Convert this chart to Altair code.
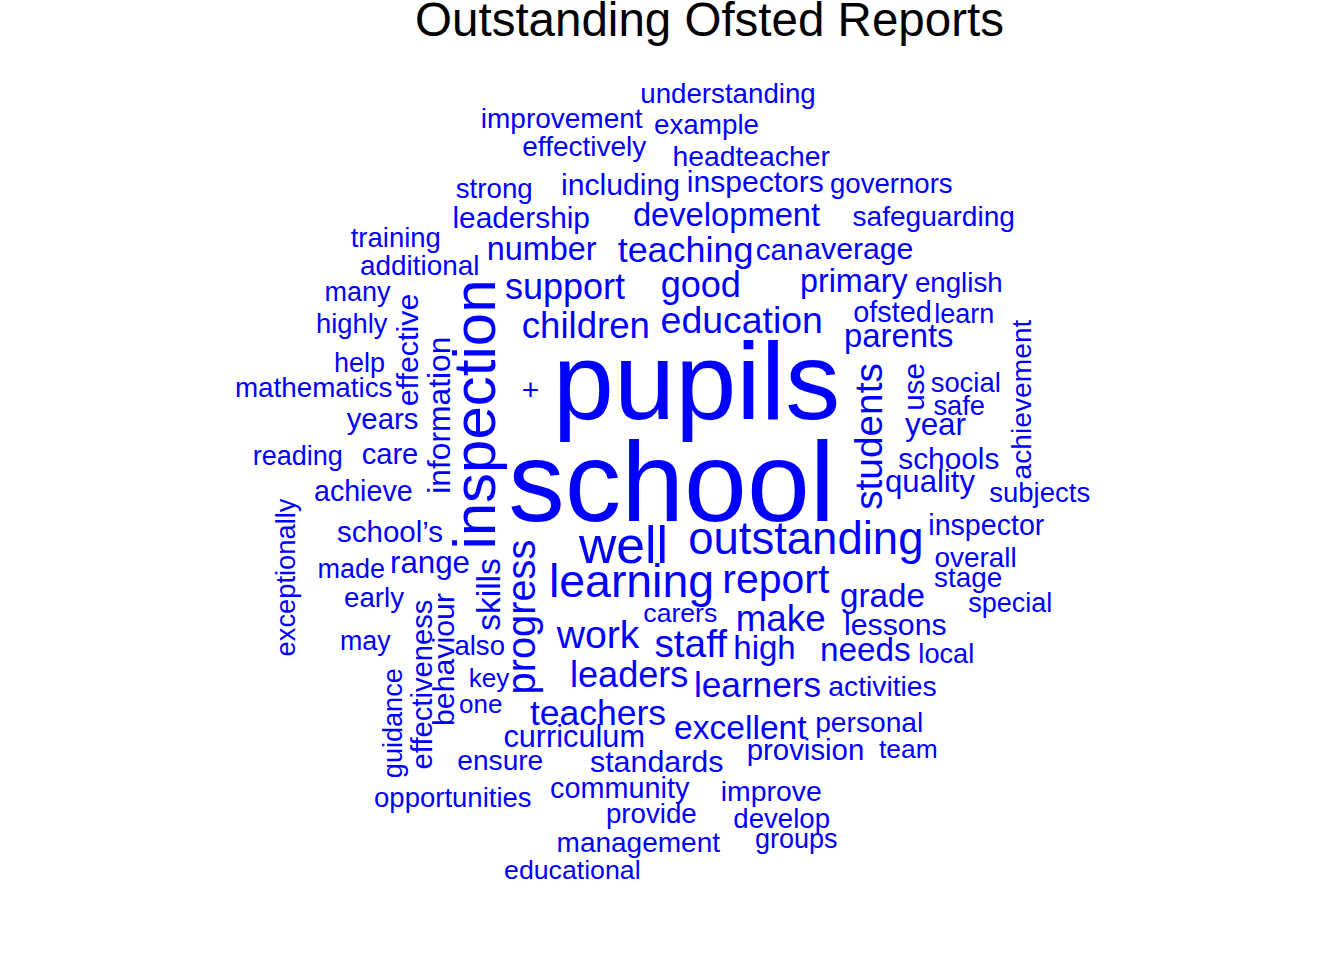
import altair as alt
import pandas as pd

TITLE = "Outstanding Ofsted Reports"

# Horizontal words: word, centre x, baseline y (pixel space of the picture), weight (font size)
h_words = ["understanding", "improvement", "example", "effectively", "headteacher", "strong",
           "including", "inspectors", "governors", "leadership", "development", "safeguarding",
           "training", "number", "teaching", "can", "average", "additional", "many", "support",
           "good", "primary", "english", "highly", "children", "education", "ofsted", "learn",
           "parents", "help", "mathematics", "+", "pupils", "years", "reading", "care", "school",
           "schools", "quality", "year", "safe", "social", "subjects", "achieve", "school\u2019s",
           "inspector", "well", "outstanding", "overall", "made", "range", "learning", "report",
           "stage", "grade", "early", "special", "carers", "make", "lessons", "work", "staff",
           "high", "needs", "local", "may", "also", "key", "leaders", "learners", "activities",
           "one", "teachers", "excellent", "personal", "curriculum", "provision", "team", "ensure",
           "standards", "opportunities", "community", "improve", "provide", "develop", "groups",
           "management", "educational"]
h_x = [728, 561.7, 706.5, 584.3, 751.2, 494.2,
       620.5, 755.3, 891.3, 521.2, 726.5, 933.7,
       395.8, 541.7, 685.5, 779.5, 858.8, 419.7, 357.5, 565,
       700.8, 853.8, 958.8, 351.7, 585.8, 741.7, 892.5, 964.2,
       898.7, 359.5, 313.7, 530.5, 696.5, 382.5, 297.7, 390, 671.5,
       948.8, 930, 935.5, 959.2, 965.7, 1039.7, 363.3, 390,
       986.3, 623.5, 805.8, 975.5, 351.2, 430, 631.5, 775.8,
       968.2, 882.5, 374, 1010.3, 680.3, 780.7, 895.3, 598, 690.7,
       764.5, 865.3, 946.3, 365.3, 479.7, 489, 629.2, 757.5, 882.5,
       480.7, 598, 740.3, 869.2, 574.2, 805.5, 908.3, 500.3,
       656.7, 452.8, 619.7, 771.2, 651.3, 781.7, 796.3,
       638.3, 572.3]
h_y = [101.7, 126.7, 132.7, 154.3, 164, 196.7,
       193.3, 190, 191, 226.7, 224, 224.3,
       245, 258.3, 260, 258.3, 257.3, 273.3, 299.3, 297.3,
       295, 290, 290.7, 331.7, 336, 331.7, 320.7, 321.7,
       345, 370.7, 395, 398, 417, 427.3, 463.3, 462.7, 519,
       467.3, 490, 433.3, 413.3, 390.7, 500.7, 499.3, 540,
       533.3, 561, 552.7, 565, 576.7, 571.7, 595, 591.7,
       585, 605, 605, 610, 620, 629.3, 633.3, 646.7, 655,
       657.3, 659.3, 661.7, 648.3, 653.3, 685, 685, 695, 694,
       711.7, 723.3, 737.3, 730, 745, 758.3, 756, 768.3,
       770, 805, 796, 799.3, 821.7, 826, 846.7,
       850, 877.3]
h_weight = [27.7, 28, 27.8, 28, 28.3, 27.7,
            30.2, 30.1, 27.6, 29.8, 32.7, 28.1,
            27.5, 32.4, 35.9, 29.6, 30.2, 27.9, 27, 36,
            36.1, 32.3, 27.7, 27.3, 36.6, 37.4, 28.8, 27,
            32.8, 27, 27.8, 30, 110, 29.3, 27, 29.1, 113,
            29.8, 31.1, 31.4, 27.3, 27.4, 27.5, 28.6, 29.5,
            28.6, 51.7, 45.5, 27.9, 27, 31.3, 46.4, 41,
            27.9, 33.2, 27.7, 27, 26.6, 36.8, 30.3, 39.2, 38.8,
            33, 33.3, 27.2, 26.8, 27.6, 26.1, 36.1, 35.2, 28.3,
            26, 35.5, 33.6, 28.2, 30.7, 29.4, 26.4, 28.1,
            30.4, 27.5, 28.8, 28.4, 27.7, 27.6, 27,
            28, 26.7]

# Vertical words (read bottom to top): word, baseline x, centre y, weight
v_words = ["inspection", "effective", "information", "students", "use", "achievement",
           "exceptionally", "skills", "progress", "effectiveness", "behaviour", "guidance"]
v_x = [495, 418, 450, 881.7, 924, 1031, 295, 500, 535, 432, 454, 402]
v_y = [413, 348.5, 413.7, 435, 385.5, 398, 576, 593, 615.5, 683, 658, 721.7]
v_weight = [60, 30.4, 31.8, 38.8, 29.6, 28.2, 27.3, 33.5, 39.8, 29.2, 30.3, 27.1]

df = pd.DataFrame({
    "word": h_words + v_words,
    "x": h_x + v_x,
    "y": h_y + v_y,
    "weight": h_weight + v_weight,
    "angle": [0] * len(h_words) + [270] * len(v_words),
})

words = alt.Chart(df).mark_text(
    font="Liberation Sans", color="#0000FF", align="center", baseline="alphabetic"
).encode(
    x=alt.X("x:Q", scale=alt.Scale(domain=[0, 1344], nice=False, zero=False), axis=None),
    y=alt.Y("y:Q", scale=alt.Scale(domain=[-1.5, 958.5], nice=False, zero=False, reverse=True), axis=None),
    size=alt.Size("weight:Q", scale=None, legend=None),
    angle=alt.Angle("angle:Q", scale=None),
    text="word:N",
)

title = alt.Chart(pd.DataFrame({"t": [TITLE]})).mark_text(
    font="Liberation Sans", fontSize=47.5, color="black", align="center", baseline="alphabetic"
).encode(text="t:N", x=alt.value(709.5), y=alt.value(35.5))

chart = alt.layer(words, title).properties(
    width=1344, height=960, autosize="none", padding=0
).configure_view(stroke=None)

chart.save("out.html", embed_options={"renderer": "svg", "actions": False})
